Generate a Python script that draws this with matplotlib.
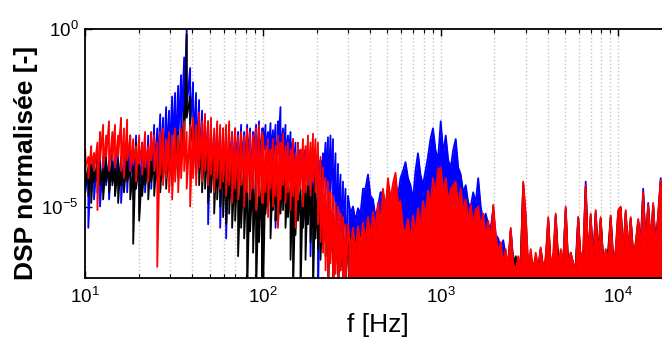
import numpy as np
import matplotlib
matplotlib.use("Agg")
import matplotlib.pyplot as plt
from matplotlib.ticker import LogLocator, FixedLocator, NullLocator, NullFormatter

plt.rcParams['font.family'] = ['Liberation Sans', 'DejaVu Sans']
plt.rcParams['mathtext.fontset'] = 'custom'
plt.rcParams['mathtext.rm'] = 'Liberation Sans'
plt.rcParams['mathtext.it'] = 'Liberation Sans:italic'
plt.rcParams['mathtext.bf'] = 'Liberation Sans:bold'

# ---------------- data: frequency bins (Hz) ----------------
freq_a = [10.0, 10.4, 10.8, 11.2, 11.7, 12.1, 12.6, 13.1, 13.6, 14.2,
          14.7, 15.3, 15.9, 16.5, 17.2, 17.9, 18.6, 19.3, 20.1, 20.9,
          21.7, 22.6, 23.5, 24.4, 25.4, 26.4, 27.4, 28.5, 29.6, 30.8,
          32.0, 33.3, 34.6, 36.0, 37.2, 38.9, 40.4, 42.0, 43.7, 45.4,
          47.2, 49.1, 51.0, 53.1, 55.2, 57.4, 59.6, 62.0, 64.5, 67.0,
          69.7, 72.4, 75.3, 78.3, 81.4, 84.6, 87.9, 91.4, 95.0, 98.8]
freq_b1 = [100, 103.3, 106.7, 110.2, 113.8, 117.6, 121.4, 125.4, 129.6, 133.8,
           138.2, 142.8, 147.5, 152.3, 157.3, 162.5, 167.9, 173.4, 179.1, 185.0,
           191.1, 197.4, 203.9, 210.6, 217.5, 224.7, 232.1, 239.7, 247.6, 255.8,
           264.2, 272.9, 281.9, 291.1]
freq_b2 = [300.7, 310.6, 320.8, 331.4, 342.3, 353.6,
           365.2, 377.2, 389.6, 402.5, 415.7, 429.4, 443.5, 458.1, 473.2, 488.8,
           504.9, 521.5, 538.7, 556.4, 574.7, 593.6, 613.1, 633.3, 654.2, 675.7,
           697.9, 720.9, 744.6, 769.1, 794.4, 820.6, 847.6, 875.5, 904.3, 934.1, 964.8]
freq_c = [1000, 1033, 1067, 1102, 1138, 1176, 1214, 1254, 1296, 1338,
          1382, 1428, 1475, 1523, 1573, 1625, 1679, 1734, 1791, 1850,
          1911, 1974, 2039, 2106, 2175, 2247, 2321, 2397, 2476, 2558,
          2642, 2729, 2819, 2911, 3007, 3106, 3208, 3314, 3423, 3536,
          3652, 3772, 3896, 4025, 4157, 4294, 4435, 4581, 4732, 4888,
          5049, 5215, 5387, 5564, 5747, 5936, 6131, 6333, 6542, 6757,
          6979, 7209, 7446, 7691, 7944, 8206, 8476, 8755, 9043, 9341,
          9648, 9966, 10294, 10633, 10983, 11345, 11718, 12104, 12502, 12914,
          13338, 13776, 14230, 14698, 15182, 15682, 16198, 16731, 17282, 17851]

# ------- data: log10(normalised PSD), max / min within each bin, 10-300 Hz -------
red_hi_a = [-3.4, -3.6, -3.3, -3.5, -3.2, -2.9, -2.7, -3.0, -2.6, -2.9,
            -2.7, -3.0, -2.5, -2.8, -2.55, -3.0, -3.1, -3.3, -3.0, -3.2,
            -2.9, -3.3, -2.9, -3.0, -3.2, -2.9, -2.8, -3.1, -2.9, -3.0,
            -2.8, -3.0, -2.8, -2.6, -2.9, -2.7, -2.5, -2.7, -2.35, -2.6,
            -2.4, -2.6, -2.5, -2.8, -2.6, -2.7, -2.8, -2.7, -2.6, -2.9,
            -2.8, -3.0, -2.9, -3.0, -2.8, -2.9, -3.0, -2.8, -2.7, -2.9]
red_lo_a = [-3.9, -4.2, -3.8, -4.0, -5.1, -3.7, -3.9, -3.6, -4.0, -3.7,
            -3.9, -3.6, -4.0, -4.2, -3.7, -4.0, -3.8, -4.3, -3.8, -4.1,
            -3.9, -4.3, -3.7, -4.0, -6.7, -4.1, -4.4, -4.2, -4.6, -4.8,
            -4.3, -4.6, -4.2, -4.0, -4.5, -5.0, -4.2, -4.4, -3.9, -4.3,
            -4.0, -4.4, -4.1, -4.6, -4.2, -4.5, -4.3, -4.7, -4.4, -4.9,
            -4.5, -4.8, -4.4, -5.0, -4.6, -4.8, -4.5, -5.1, -4.7, -4.9]
blue_hi_a = [-3.8, -4.0, -3.6, -3.9, -3.5, -3.8, -3.6, -3.4, -3.7, -3.4,
             -3.6, -3.3, -3.7, -3.5, -3.2, -3.0, -3.4, -3.0, -3.5, -3.2,
             -3.3, -3.0, -3.2, -2.7, -2.8, -2.4, -2.5, -2.2, -2.3, -1.9,
             -1.8, -1.6, -1.3, -0.8, 0.0, -1.1, -1.5, -1.8, -2.0, -2.3,
             -2.4, -2.6, -2.7, -2.9, -2.7, -2.9, -2.8, -3.0, -2.7, -2.9,
             -2.8, -2.9, -2.7, -2.9, -2.7, -2.8, -2.9, -2.7, -2.6, -2.8]
blue_lo_a = [-4.6, -5.6, -4.4, -4.8, -4.3, -5.0, -4.6, -4.4, -4.8, -4.3,
             -4.7, -4.4, -4.9, -4.3, -4.6, -4.2, -4.8, -4.4, -5.2, -4.3,
             -4.6, -4.2, -4.5, -4.0, -4.3, -3.8, -4.2, -3.6, -3.9, -3.4,
             -3.7, -3.2, -3.0, -2.6, -2.2, -2.8, -3.3, -3.6, -3.9, -4.2,
             -4.0, -5.5, -4.1, -4.5, -4.0, -5.6, -4.2, -5.9, -4.0, -4.4,
             -3.9, -4.5, -3.8, -4.2, -3.7, -4.4, -3.6, -4.1, -3.8, -6.0]
black_hi_a = [-3.6, -3.9, -3.7, -3.5, -3.8, -3.6, -3.9, -3.6, -3.8, -3.7,
              -3.9, -3.7, -3.6, -3.9, -3.5, -3.8, -3.9, -3.2, -3.7, -3.9,
              -3.6, -3.8, -3.5, -3.7, -3.5, -3.6, -3.4, -3.5, -3.1, -3.2,
              -3.0, -2.9, -2.8, -2.3, -0.15, -1.9, -2.6, -2.7, -2.5, -2.8,
              -2.9, -3.1, -3.0, -3.2, -3.2, -3.3, -3.4, -3.5, -3.6, -3.5,
              -3.7, -3.6, -3.8, -3.7, -3.9, -3.8, -4.0, -3.8, -3.9, -4.0]
black_lo_a = [-4.4, -4.7, -4.9, -4.3, -4.6, -4.4, -4.8, -4.3, -4.6, -4.4,
              -4.7, -4.9, -4.4, -4.6, -4.3, -4.8, -6.05, -4.5, -5.4, -4.7,
              -4.4, -4.8, -4.3, -4.7, -4.2, -4.6, -4.1, -4.5, -4.0, -4.4,
              -3.9, -4.2, -3.8, -3.2, -2.5, -3.3, -3.9, -4.1, -4.4, -4.6,
              -4.5, -4.9, -4.6, -5.2, -4.8, -5.0, -5.3, -5.5, -5.2, -5.6,
              -5.4, -6.4, -5.6, -5.9, -7.5, -5.7, -6.3, -7.5, -6.0, -7.5]

red_hi_b1 = [-3.0, -3.3, -3.1, -3.4, -3.1, -3.3, -3.0, -3.2, -2.95, -3.3,
             -3.2, -3.4, -3.1, -3.5, -3.2, -3.4, -3.1, -3.3, -3.0, -3.2,
             -2.95, -3.1, -3.2, -3.6, -3.9, -4.2, -4.3, -4.6, -4.7, -4.9,
             -5.0, -5.2, -5.3, -5.5]
red_lo_b1 = [-4.9, -4.6, -5.3, -4.5, -5.0, -4.7, -5.6, -4.8, -4.4, -4.9,
             -4.6, -5.1, -4.7, -5.6, -4.8, -4.5, -5.0, -4.6, -4.4, -4.7,
             -4.3, -4.6, -5.5, -6.0, -6.3, -6.8, -7.5, -6.6, -7.5, -6.9,
             -7.5, -6.8, -7.5, -7.5]
blue_hi_b1 = [-2.8, -2.7, -2.9, -2.65, -2.85, -2.7, -2.6, -2.2, -2.8, -2.7,
              -3.0, -2.9, -3.1, -3.2, -3.3, -3.4, -3.5, -3.4, -3.6, -3.45,
              -3.6, -3.55, -3.5, -3.7, -3.5, -3.2, -3.05, -3.0, -3.1, -3.5,
              -3.8, -4.1, -4.3, -4.5]
blue_lo_b1 = [-3.6, -3.4, -3.8, -3.5, -3.7, -5.6, -3.5, -3.4, -3.7, -3.6,
              -3.8, -3.6, -4.0, -5.4, -4.1, -3.9, -4.3, -4.0, -4.4, -6.4,
              -4.4, -4.3, -7.5, -4.9, -4.5, -4.7, -5.0, -4.6, -5.1, -6.0,
              -5.4, -6.2, -5.8, -7.5]
black_hi_b1 = [-3.9, -4.0, -4.2, -3.8, -4.0, -4.3, -3.9, -4.1, -4.0, -3.8,
               -4.2, -4.4, -4.1, -4.3, -4.0, -4.5, -4.2, -4.4, -4.1, -4.3,
               -4.4, -4.2, -4.5, -4.6, -4.7, -4.9, -5.0, -5.1, -5.2, -5.4,
               -5.5, -5.6, -5.8, -5.9]
black_lo_b1 = [-7.5, -5.2, -5.0, -5.9, -5.1, -5.4, -5.5, -5.2, -5.1, -5.6,
               -5.3, -6.5, -7.5, -5.8, -5.4, -7.5, -5.6, -6.5, -5.5, -6.0,
               -7.5, -5.9, -6.2, -6.5, -6.1, -6.4, -7.5, -6.3, -7.5, -6.6,
               -7.5, -6.8, -7.5, -7.0]

# ------- data: log10(normalised PSD), upper edge above 300 Hz (dense, filled below) -------
red_hi_b2 = [-5.5, -6.2, -5.6, -6.3, -5.55, -6.1,
             -5.45, -6.0, -5.3, -5.9, -5.15, -5.7, -4.9, -5.5, -4.5, -5.1,
             -4.2, -4.8, -4.35, -4.05, -4.9, -4.85, -5.6, -5.7, -5.35, -6.0,
             -5.25, -5.8, -5.05, -5.6, -4.85, -5.3, -4.55, -5.0, -4.2, -4.7, -3.95]
blue_hi_b2 = [-4.7, -5.2, -5.0, -5.4, -5.05, -5.2,
              -4.5, -4.5, -4.1, -4.7, -4.8, -5.3, -5.0, -4.6, -4.6, -5.0,
              -4.5, -4.9, -4.8, -4.3, -4.7, -4.2, -4.0, -3.75, -4.2, -4.4,
              -4.8, -4.0, -3.5, -4.1, -4.4, -4.0, -3.6, -3.1, -2.8, -3.4, -3.7]
black_hi_b2 = [-6.2, -5.8, -6.4, -5.9, -6.3, -5.8,
               -6.2, -5.7, -6.1, -5.6, -6.0, -5.5, -5.9, -5.4, -5.8, -5.3,
               -5.7, -5.2, -5.6, -5.3, -5.7, -5.4, -5.8, -5.9, -6.1, -5.9,
               -6.0, -5.8, -5.9, -5.6, -5.8, -5.5, -5.7, -5.4, -5.6, -5.3, -5.5]

black_hi_c = [-4.8, -5.3, -5.0, -5.5, -5.2, -5.6, -5.3, -5.7, -5.5, -5.8,
              -5.6, -5.9, -5.8, -6.0, -5.9, -6.1, -6.0, -6.2, -6.1, -6.3,
              -6.2, -5.0, -6.4, -6.3, -6.5, -6.6, -6.4, -6.7, -5.7, -6.6,
              -6.4, -6.7, -6.5, -4.4, -6.3, -6.6, -6.4, -6.7, -6.5, -6.8,
              -6.2, -6.7, -6.6, -5.4, -6.7, -6.6, -5.3, -6.4, -6.7, -6.5,
              -5.1, -6.7, -6.3, -6.6, -6.8, -5.35, -6.6, -6.4, -4.45, -6.6,
              -5.3, -6.7, -5.2, -6.3, -5.35, -6.5, -6.6, -6.2, -5.3, -6.6,
              -6.3, -5.2, -5.05, -6.4, -5.2, -6.3, -5.35, -6.4, -6.1, -5.4,
              -6.2, -4.65, -6.1, -5.0, -6.2, -5.0, -6.1, -5.3, -4.3, -6.0]
blue_hi_c = [-2.6, -3.5, -3.0, -3.7, -3.9, -3.4, -3.1, -3.9, -4.1, -4.6,
             -4.4, -4.9, -5.0, -4.6, -4.9, -4.2, -5.0, -5.4, -5.2, -5.5,
             -5.6, -5.1, -5.8, -5.9, -6.2, -5.95, -6.4, -6.6, -5.65, -6.5,
             -6.7, -6.6, -6.7, -4.35, -5.3, -6.7, -6.6, -6.8, -6.6, -6.75,
             -6.2, -6.8, -6.6, -5.35, -6.7, -6.8, -5.25, -6.7, -6.6, -6.7,
             -5.05, -6.7, -6.6, -6.8, -6.6, -5.3, -6.6, -6.7, -4.3, -6.6,
             -5.25, -6.5, -5.15, -6.6, -5.35, -6.5, -6.4, -6.6, -5.3, -6.4,
             -6.5, -5.15, -5.05, -6.4, -5.15, -6.3, -5.35, -6.3, -6.1, -5.4,
             -6.0, -4.5, -6.1, -4.9, -6.0, -4.95, -6.1, -5.25, -4.2, -5.9]
red_hi_c = [-3.9, -4.6, -4.2, -4.9, -4.5, -4.4, -4.3, -5.0, -4.5, -5.1,
            -4.8, -5.4, -4.95, -5.5, -5.1, -5.0, -5.6, -5.2, -5.9, -5.4,
            -6.0, -4.95, -5.8, -6.3, -6.0, -6.6, -6.2, -6.7, -5.6, -6.6,
            -6.8, -6.4, -6.7, -4.3, -5.2, -6.7, -6.2, -6.8, -6.3, -6.7,
            -6.15, -6.8, -6.4, -5.3, -6.7, -6.3, -5.2, -6.7, -6.2, -6.6,
            -5.0, -6.7, -6.3, -6.6, -6.8, -5.3, -6.5, -6.2, -4.4, -6.6,
            -5.2, -6.7, -5.1, -6.5, -5.3, -6.6, -6.2, -6.5, -5.25, -6.6,
            -6.2, -5.1, -5.0, -6.4, -5.1, -6.3, -5.3, -6.4, -6.0, -5.35,
            -6.2, -4.6, -6.1, -4.95, -6.0, -4.9, -6.2, -5.2, -4.25, -5.8]

y_ticks = [1e-5, 1e0]
x_label = 'f [Hz]'
y_label = 'DSP normalisée [-]'

# ---------------- assemble ----------------
f_low = np.array(freq_a + freq_b1, dtype=float)
f_high = np.array(freq_b2 + freq_c, dtype=float)
series = {
    'blue':  (blue_hi_a + blue_hi_b1, blue_lo_a + blue_lo_b1, blue_hi_b2 + blue_hi_c),
    'black': (black_hi_a + black_hi_b1, black_lo_a + black_lo_b1, black_hi_b2 + black_hi_c),
    'red':   (red_hi_a + red_hi_b1, red_lo_a + red_lo_b1, red_hi_b2 + red_hi_c),
}
colors = {'blue': '#0000ff', 'black': '#000000', 'red': '#ff0000'}
zord = {'blue': 2, 'black': 3, 'red': 4}

W, H = 662, 340
fig = plt.figure(figsize=(W / 100, H / 100), dpi=100)
ax_left, ax_top, ax_bot = 85.3, 29.0, 277.5
ax = fig.add_axes([ax_left / W, 1 - ax_bot / H, 1 - ax_left / W, (ax_bot - ax_top) / H])

for name in ['blue', 'black', 'red']:
    hi_low, lo_low, hi_high = series[name]
    hi_low = 10.0 ** np.array(hi_low)
    lo_low = 10.0 ** np.array(lo_low)
    hi_high = 10.0 ** np.array(hi_high)
    # each low-frequency bin drawn from its max to its min, like a dense trace
    x_low = np.repeat(f_low, 2)
    y_low = np.empty(2 * len(f_low))
    y_low[0::2] = hi_low
    y_low[1::2] = lo_low
    x_all = np.concatenate([x_low, f_high])
    y_all = np.concatenate([y_low, hi_high])
    ax.plot(x_all, y_all, color=colors[name], lw=1.3, zorder=zord[name])
    ax.fill_between(f_high, 1e-9, hi_high, color=colors[name], lw=0, zorder=zord[name])

ax.set_xscale('log')
ax.set_yscale('log')
ax.set_xlim(10, 17580)
ax.set_ylim(1e-7, 1)

ax.xaxis.set_major_locator(LogLocator(base=10, numticks=10))
ax.xaxis.set_minor_locator(LogLocator(base=10, subs=np.arange(2, 10), numticks=40))
ax.xaxis.set_minor_formatter(NullFormatter())
ax.yaxis.set_major_locator(FixedLocator(y_ticks))
ax.yaxis.set_minor_locator(NullLocator())

ax.tick_params(which='both', direction='in', top=True, right=False,
               labelsize=13.5, color='black')
ax.tick_params(which='major', length=5, width=1.0)
ax.tick_params(which='minor', length=3, width=0.8)
ax.tick_params(axis='x', pad=7)
ax.tick_params(axis='y', pad=5)

ax.grid(True, which='both', axis='x', color='#c4c4c4', linestyle=':', linewidth=1.0)
ax.set_axisbelow(True)

for s in ['top', 'bottom', 'left']:
    ax.spines[s].set_linewidth(1.3)
    ax.spines[s].set_zorder(10)
ax.spines['right'].set_visible(False)

fig.text(378 / W, 1 - 332 / H, x_label, ha='center', va='baseline', fontsize=19)
fig.text(26 / W, 1 - 163 / H, y_label, ha='center', va='center', rotation=90,
         fontsize=19, fontweight='bold')

fig.savefig('out.png', dpi=100)
